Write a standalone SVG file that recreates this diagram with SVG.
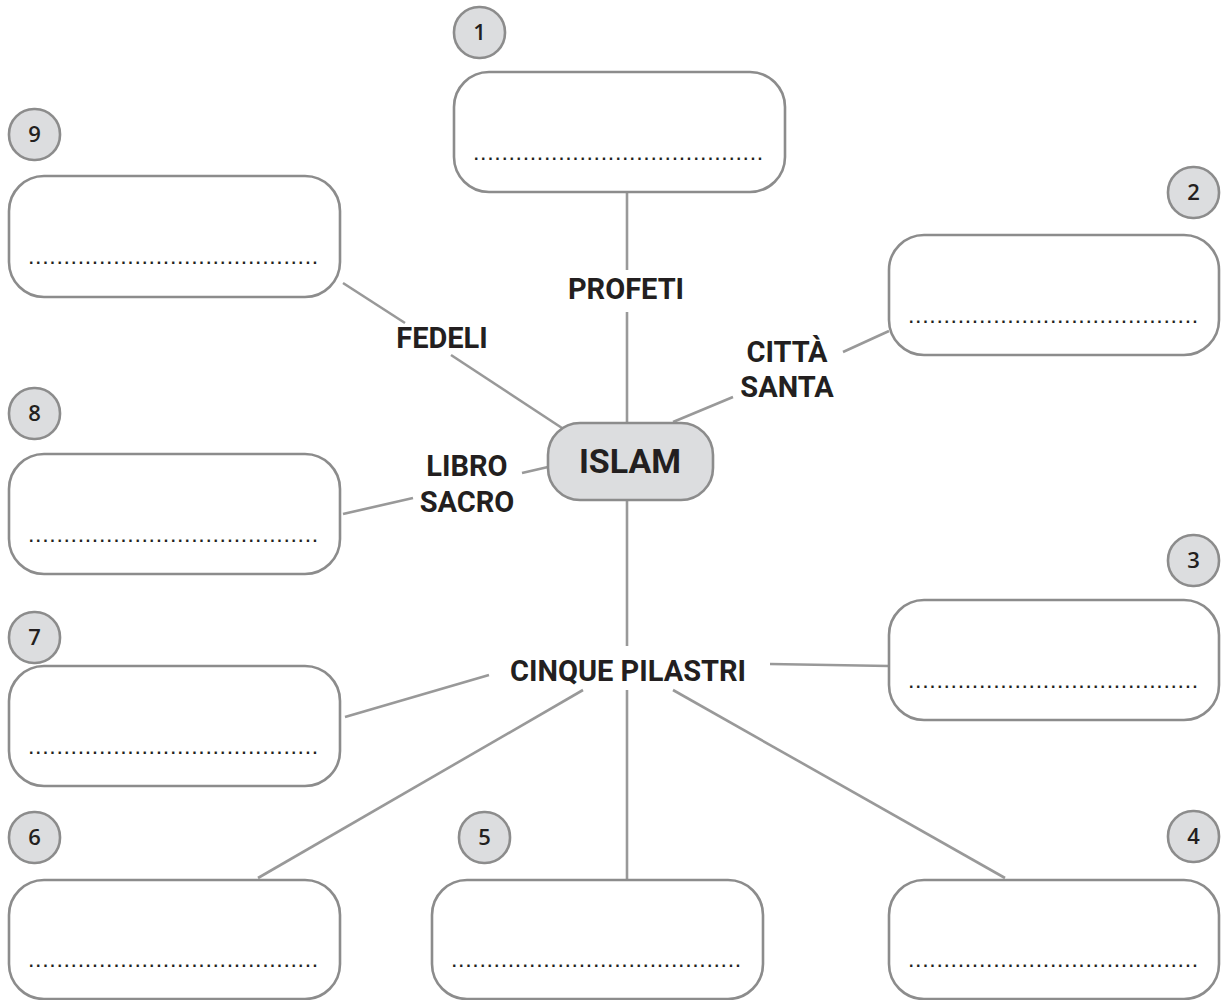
<svg xmlns="http://www.w3.org/2000/svg" width="1222" height="1000" viewBox="0 0 1222 1000">
<style>
.box{fill:#ffffff;stroke:#8c8c8c;stroke-width:2.6}
.badge{fill:#dcdddf;stroke:#8c8c8c;stroke-width:2.6}
.num{font-family:"Open Sans","DejaVu Sans",sans-serif;font-weight:600;font-size:22px;fill:#231f20;text-anchor:middle}
.dots{font-family:"Liberation Sans",Arial,sans-serif;font-weight:700;font-size:16px;letter-spacing:2.65px;fill:#231f20}
.lbl{font-family:Roboto,"Liberation Sans",sans-serif;font-weight:700;font-size:29px;fill:#231f20;text-anchor:middle}
.conn line{stroke:#999999;stroke-width:2.6;stroke-linecap:butt}
.center{fill:#dcdddf;stroke:#8c8c8c;stroke-width:2.6}
</style>
<rect width="1222" height="1000" fill="#ffffff"/>
<g id="connectors" class="conn">
  <line x1="627" y1="193" x2="627" y2="270"/>
  <line x1="627" y1="312" x2="627" y2="423"/>
  <line x1="343" y1="283" x2="405" y2="323"/>
  <line x1="451" y1="355" x2="562" y2="428"/>
  <line x1="843" y1="352" x2="889" y2="331"/>
  <line x1="673" y1="422" x2="733" y2="397"/>
  <line x1="343" y1="514" x2="413" y2="498"/>
  <line x1="522" y1="473" x2="548" y2="467"/>
  <line x1="627" y1="500" x2="627" y2="646"/>
  <line x1="345" y1="717" x2="489" y2="675"/>
  <line x1="770" y1="664" x2="889" y2="666"/>
  <line x1="583" y1="690" x2="258" y2="878"/>
  <line x1="627" y1="690" x2="627" y2="880"/>
  <line x1="673" y1="690" x2="1005" y2="878"/>
</g>
<g id="labels">
  <text class="lbl" x="626" y="299">PROFETI</text>
  <text class="lbl" x="442" y="348">FEDELI</text>
  <text class="lbl" x="787" y="362">CITTÀ</text>
  <text class="lbl" x="787" y="397">SANTA</text>
  <text class="lbl" x="467" y="476">LIBRO</text>
  <text class="lbl" x="467" y="512">SACRO</text>
  <text class="lbl" x="628" y="681">CINQUE PILASTRI</text>
</g>
<g id="islam">
  <rect class="center" x="548" y="423" width="165" height="77" rx="32"/>
  <text class="lbl" x="630" y="473" style="font-size:34px">ISLAM</text>
</g>
<g id="node1">
  <rect class="badge" x="454" y="7" width="51" height="51" rx="25"/>
  <text class="num" x="479.5" y="40">1</text>
  <rect class="box" x="454" y="72" width="331" height="120" rx="35"/>
  <text class="dots" x="474" y="160">.........................................</text>
</g>
<g id="node2">
  <rect class="badge" x="1168" y="167" width="51" height="51" rx="25"/>
  <text class="num" x="1193.5" y="200">2</text>
  <rect class="box" x="889" y="235" width="330" height="120" rx="35"/>
  <text class="dots" x="909" y="323">.........................................</text>
</g>
<g id="node3">
  <rect class="badge" x="1168" y="535" width="51" height="51" rx="25"/>
  <text class="num" x="1193.5" y="568">3</text>
  <rect class="box" x="889" y="600" width="330" height="120" rx="35"/>
  <text class="dots" x="909" y="688">.........................................</text>
</g>
<g id="node4">
  <rect class="badge" x="1168" y="811" width="51" height="51" rx="25"/>
  <text class="num" x="1193.5" y="844">4</text>
  <rect class="box" x="889" y="880" width="330" height="119" rx="35"/>
  <text class="dots" x="909" y="967">.........................................</text>
</g>
<g id="node5">
  <rect class="badge" x="459" y="812" width="51" height="51" rx="25"/>
  <text class="num" x="484.5" y="845">5</text>
  <rect class="box" x="432" y="880" width="331" height="119" rx="35"/>
  <text class="dots" x="452" y="967">.........................................</text>
</g>
<g id="node6">
  <rect class="badge" x="9" y="812" width="51" height="51" rx="25"/>
  <text class="num" x="34.5" y="845">6</text>
  <rect class="box" x="9" y="880" width="331" height="119" rx="35"/>
  <text class="dots" x="29" y="967">.........................................</text>
</g>
<g id="node7">
  <rect class="badge" x="9" y="612" width="51" height="51" rx="25"/>
  <text class="num" x="34.5" y="645">7</text>
  <rect class="box" x="9" y="666" width="331" height="120" rx="35"/>
  <text class="dots" x="29" y="754">.........................................</text>
</g>
<g id="node8">
  <rect class="badge" x="9" y="388" width="51" height="51" rx="25"/>
  <text class="num" x="34.5" y="421">8</text>
  <rect class="box" x="9" y="454" width="331" height="120" rx="35"/>
  <text class="dots" x="29" y="542">.........................................</text>
</g>
<g id="node9">
  <rect class="badge" x="9" y="109" width="51" height="51" rx="25"/>
  <text class="num" x="34.5" y="142">9</text>
  <rect class="box" x="9" y="176" width="331" height="121" rx="35"/>
  <text class="dots" x="29" y="264">.........................................</text>
</g>
</svg>
